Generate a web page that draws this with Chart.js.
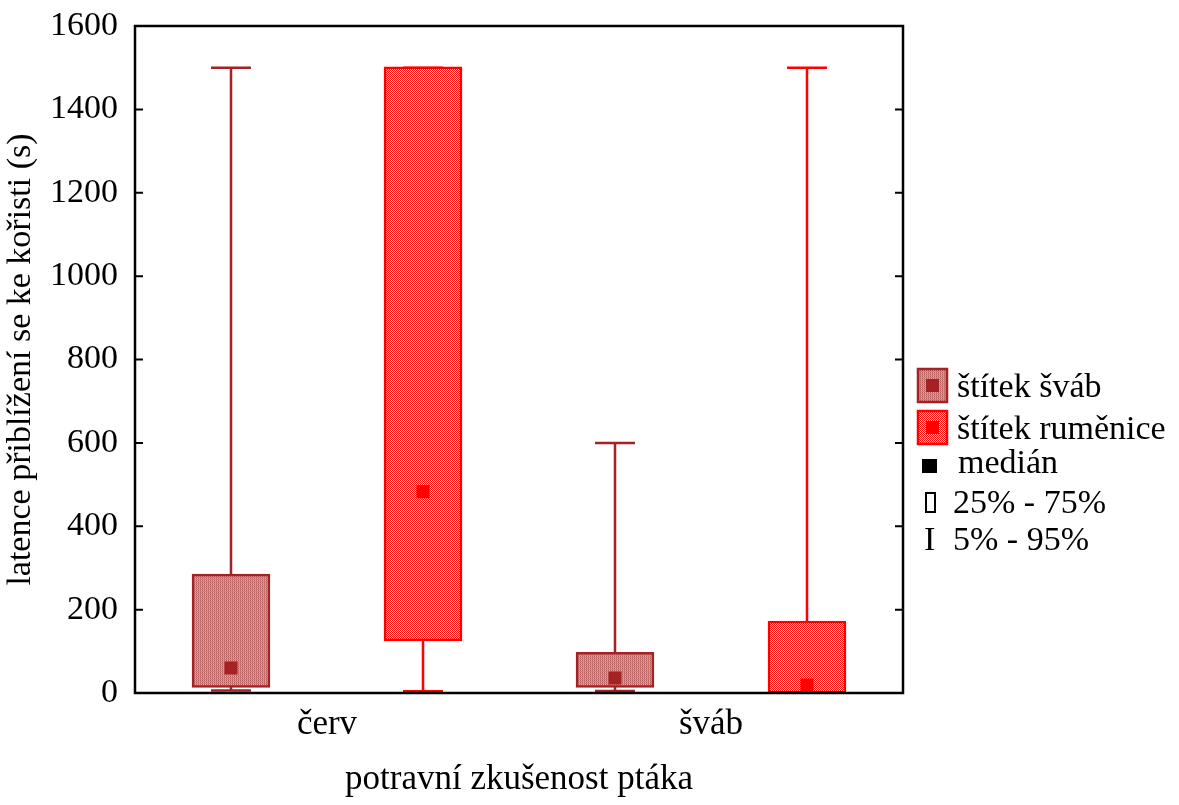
<!DOCTYPE html>
<html>
<head>
<meta charset="utf-8">
<script src="https://cdn.jsdelivr.net/npm/chart.js@4/dist/chart.umd.min.js"></script>
<style>
  html, body { margin: 0; padding: 0; background: #fff; }
  #wrap { width: 1179px; height: 805px; }
</style>
</head>
<body>
<div id="wrap"><canvas id="chart" width="1179" height="805"></canvas></div>
<script>
// data
const groups = ["červ", "šváb"];
const seriesNames = ["štítek šváb", "štítek ruměnice"];
const medians = [[60, 36], [483, 19]];
const q1 = [[16, 16], [127, 2]];
const q3 = [[283, 95], [1500, 170]];
const p5 = [[6, 5], [4, 2]];
const p95 = [[1500, 600], [1500, 1500]];
const yTicks = [0, 200, 400, 600, 800, 1000, 1200, 1400, 1600];

const FONT = "'Liberation Serif', 'Times New Roman', serif";
const lineColors = ["#a52124", "#ff0000"];
const medianColors = ["#a52124", "#ff0000"];

const makePattern = (cells) => {
    const c = document.createElement("canvas");
    c.width = 2; c.height = 2;
    const g = c.getContext("2d");
    cells.forEach((col, i) => {
        g.fillStyle = col;
        g.fillRect(i % 2, Math.floor(i / 2), 1, 1);
    });
    return c.getContext("2d").createPattern(c, "repeat");
};
const patterns = [
    makePattern(["#b45e5e", "#dba6a6", "#c98585", "#c98585"]),
    makePattern(["#ff1010", "#ffd0d0", "#ffd0d0", "#ff1010"]),
];

const offsets = [-0.25, 0.25];
const capHalf = 0.052;
const xOf = (s, g) => g + 1 + offsets[s];

const datasets = [];
seriesNames.forEach((name, s) => {
    // whiskers
    const wh = [];
    const caps = [];
    groups.forEach((_, g) => {
        const x = xOf(s, g);
        wh.push({ x, y: p5[s][g] }, { x, y: q1[s][g] }, { x, y: null });
        wh.push({ x, y: q3[s][g] }, { x, y: p95[s][g] }, { x, y: null });
        caps.push({ x: x - capHalf, y: p5[s][g] }, { x: x + capHalf, y: p5[s][g] }, { x, y: null });
        caps.push({ x: x - capHalf, y: p95[s][g] }, { x: x + capHalf, y: p95[s][g] }, { x, y: null });
    });
    datasets.push({
        type: "line", label: name + " whisker", data: wh.concat(caps),
        borderColor: lineColors[s], borderWidth: 2.5, pointRadius: 0,
        spanGaps: false, fill: false, order: 3,
    });
    // boxes
    datasets.push({
        type: "bar", label: name,
        data: groups.map((_, g) => ({ x: xOf(s, g), y: [q1[s][g], q3[s][g]] })),
        backgroundColor: patterns[s], borderColor: lineColors[s],
        borderWidth: 2.5, borderSkipped: false, grouped: false,
        inflateAmount: 1.3, maxBarThickness: 76, order: 2,
    });
    // medians
    datasets.push({
        type: "scatter", label: name + " medián",
        data: groups.map((_, g) => ({ x: xOf(s, g), y: medians[s][g] })),
        pointStyle: "rect", pointRadius: 9.2, borderWidth: 0,
        backgroundColor: medianColors[s], borderColor: medianColors[s], order: 1,
    });
});

const framePlugin = {
    id: "frame",
    afterDatasetsDraw(chart) {
        const { ctx, chartArea: a, scales } = chart;
        ctx.save();
        ctx.strokeStyle = "#000";
        ctx.lineWidth = 2.5;
        ctx.strokeRect(a.left, a.top, a.right - a.left, a.bottom - a.top);
        ctx.lineWidth = 2;
        yTicks.forEach((v) => {
            const y = scales.y.getPixelForValue(v);
            ctx.beginPath();
            ctx.moveTo(a.left, y); ctx.lineTo(a.left + 8, y);
            ctx.moveTo(a.right, y); ctx.lineTo(a.right - 8, y);
            ctx.stroke();
        });
        ctx.restore();
    },
};

const legendPlugin = {
    id: "boxLegend",
    afterDraw(chart) {
        const ctx = chart.ctx;
        const lx = chart.chartArea.right + 15;
        ctx.save();
        ctx.font = "34px " + FONT;
        ctx.textBaseline = "alphabetic";
        ctx.fillStyle = "#000";
        const rows = [397, 439];
        seriesNames.forEach((name, s) => {
            const top = rows[s] - 28;
            ctx.fillStyle = patterns[s];
            ctx.fillRect(lx, top, 29, 33);
            ctx.strokeStyle = lineColors[s];
            ctx.lineWidth = 2.5;
            ctx.strokeRect(lx, top, 29, 33);
            ctx.fillStyle = medianColors[s];
            ctx.fillRect(lx + 8, top + 10, 13, 13);
            ctx.fillStyle = "#000";
            ctx.fillText(name, lx + 39, rows[s]);
        });
        ctx.fillRect(lx + 4, 459, 15, 14);
        ctx.fillText("medián", lx + 40, 473);
        ctx.lineWidth = 2;
        ctx.strokeStyle = "#000";
        ctx.strokeRect(lx + 8, 493, 9, 19);
        ctx.fillText("25% - 75%", lx + 35, 513);
        ctx.fillText("I", lx + 6, 550);
        ctx.fillText("5% - 95%", lx + 35, 550);
        ctx.restore();
    },
};

new Chart(document.getElementById("chart"), {
    data: { datasets },
    plugins: [framePlugin, legendPlugin],
    options: {
        responsive: false,
        animation: false,
        events: [],
        layout: { autoPadding: false, padding: { top: 26, right: 276, left: 0, bottom: 0 } },
        plugins: { legend: { display: false }, tooltip: { enabled: false } },
        scales: {
            x: {
                type: "linear", min: 0.5, max: 2.5, offset: false,
                afterBuildTicks: (scale) => { scale.ticks = groups.map((_, i) => ({ value: i + 1 })); },
                afterFit: (scale) => { scale.height = 112; scale.paddingLeft = 0; scale.paddingRight = 0; },
                ticks: {
                    callback: (v) => groups[Math.round(v) - 1] || "",
                    font: { family: FONT, size: 35 }, color: "#000", padding: 11, maxRotation: 0,
                },
                grid: { display: false, drawTicks: false },
                border: { display: false },
                title: {
                    display: true, text: "potravní zkušenost ptáka",
                    font: { family: FONT, size: 35 }, color: "#000",
                    padding: { top: 0, bottom: 4 },
                },
            },
            y: {
                min: 0, max: 1600,
                afterBuildTicks: (scale) => { scale.ticks = yTicks.map((v) => ({ value: v })); },
                afterFit: (scale) => { scale.width = 135; scale.paddingTop = 0; scale.paddingBottom = 0; },
                ticks: {
                    callback: (v) => String(v),
                    font: { family: FONT, size: 34 }, color: "#000", padding: 17,
                },
                grid: { display: false, drawTicks: false },
                border: { display: false },
                title: {
                    display: true, text: "latence přiblížení se ke kořisti (s)",
                    font: { family: FONT, size: 34 }, color: "#000",
                    padding: { top: 1, bottom: 0 },
                },
            },
        },
    },
});
</script>
</body>
</html>
